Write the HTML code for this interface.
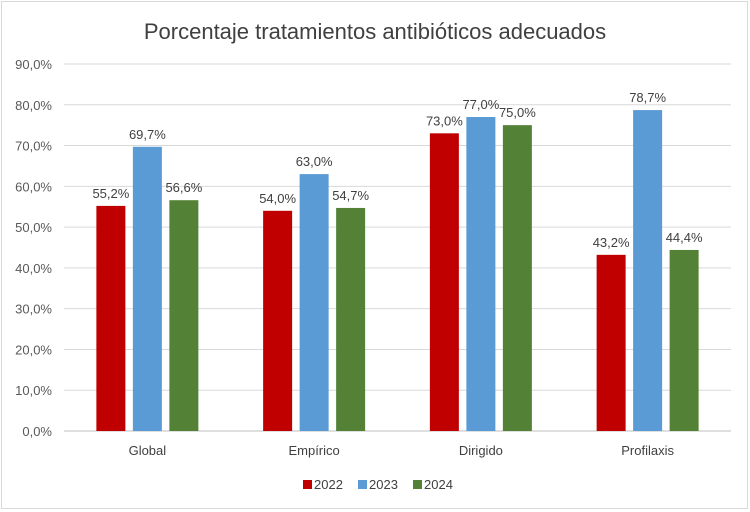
<!DOCTYPE html>
<html><head><meta charset="utf-8"><style>
body{margin:0;background:#fff;}
svg{display:block;font-family:"Liberation Sans",sans-serif;}
</style></head><body>
<svg id="chart" width="750" height="512">
<rect x="1.5" y="1.5" width="746" height="507" fill="#fff" stroke="#d9d9d9"/>
<text x="375" y="39" text-anchor="middle" font-size="22" fill="#404040">Porcentaje tratamientos antibióticos adecuados</text>
<g id="grid"></g><g id="bars"></g><g id="labels"></g>
</svg>
<script>
const categories=["Global","Empírico","Dirigido","Profilaxis"];
const series=["2022","2023","2024"];
const v2022=[55.2,54.0,73.0,43.2];
const v2023=[69.7,63.0,77.0,78.7];
const v2024=[56.6,54.7,75.0,44.4];
const ticks=[0,10,20,30,40,50,60,70,80,90];
const colors=["#C00000","#5B9BD5","#538135"];
const values=[v2022,v2023,v2024];
const NS="http://www.w3.org/2000/svg";
const L=64,R=731,Y0=431,Y90=64;
const y=v=>Y0-(v/90)*(Y0-Y90);
const bw=(R-L)/categories.length;
const barW=29,gap=7.5;
const fmt=v=>v.toFixed(1).replace('.',',')+'%';
function mk(tag,attrs,parent,txt){const e=document.createElementNS(NS,tag);for(const k in attrs)e.setAttribute(k,attrs[k]);if(txt!==undefined)e.textContent=txt;parent.appendChild(e);return e;}
const grid=document.getElementById('grid'),bars=document.getElementById('bars'),labels=document.getElementById('labels');
ticks.forEach(t=>{
 const l=mk('line',{x1:L,x2:R,y1:y(t),y2:y(t),stroke:t===0?'#bfbfbf':'#d9d9d9','stroke-width':1},grid);
 
 
 const tx=mk('text',{x:52,y:y(t)+5,'text-anchor':'end','font-size':13,fill:'#595959'},grid,fmt(t));
 
 
});
categories.forEach((c,i)=>{
 const cx=L+bw*(i+0.5);
 const gw=3*barW+2*gap;
 values.forEach((arr,s)=>{
  const x=cx-gw/2+s*(barW+gap);
  const r=mk('rect',{x:x,y:y(arr[i]),width:barW,height:Y0-y(arr[i]),fill:colors[s]},bars);
  
  
  const t=mk('text',{x:x+barW/2,y:y(arr[i])-8,'text-anchor':'middle','font-size':13,fill:'#404040'},labels,fmt(arr[i]));
  
  
 });
 const ct=mk('text',{x:cx,y:455,'text-anchor':'middle','font-size':13,fill:'#404040'},labels,c);
 
 
});
series.forEach((s,i)=>{
 const x=303+i*55;
 const sq=mk('rect',{x:x,y:480,width:9,height:9,fill:colors[i]},labels);
 
 
 const t=mk('text',{x:x+11,y:489,'font-size':13,fill:'#404040'},labels,s);
 
 
});
</script>
</body></html>
